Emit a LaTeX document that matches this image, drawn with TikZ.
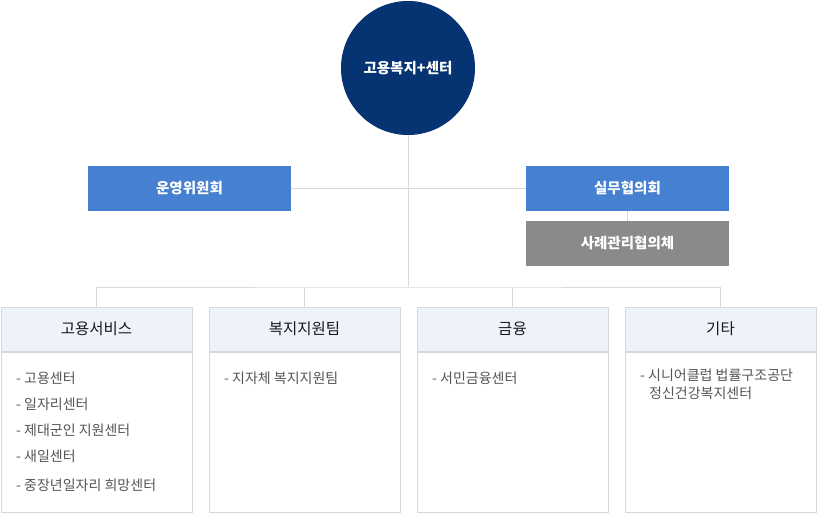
\documentclass[tikz,border=0pt]{standalone}
\usepackage{fontspec}
\setmainfont{Noto Sans CJK KR}
\usetikzlibrary{positioning}
\definecolor{centernavy}{HTML}{063372}
\definecolor{boardblue}{HTML}{4680D0}
\definecolor{casegray}{HTML}{8A8A8A}
\definecolor{linegray}{HTML}{D9D9D9}
\definecolor{headfill}{HTML}{EEF2FB}
\definecolor{boxline}{HTML}{D5D8E0}
\definecolor{itemgray}{HTML}{555555}
\begin{document}
\begin{tikzpicture}[
			x=1pt, y=-1pt,
			conn/.style={draw=linegray, line width=1pt},
			board/.style={fill=boardblue, minimum width=203pt, minimum height=45pt,
				text=white, inner sep=0pt, font=\fontsize{14.5}{16}\selectfont\bfseries},
			deptbox/.style={draw=boxline, fill=headfill, line width=1pt, minimum width=191pt,
				minimum height=44pt, inner sep=0pt, text=black!90, font=\fontsize{15.5}{18}\selectfont},
			bodybox/.style={draw=boxline, fill=white, line width=1pt, minimum width=191pt,
				minimum height=160pt, inner sep=0pt},
			itemlist/.style={anchor=north west, align=left, inner sep=0pt, text=itemgray,
				font=\fontsize{14}{26}\selectfont}
			]
				\useasboundingbox (0,0) rectangle (817,530);

				% center and committees
				\node[circle, fill=centernavy, minimum size=134pt, inner sep=0pt, text=white,
					font=\fontsize{14.5}{16}\selectfont\bfseries] (center) at (408,68) {고용복지+센터};
				\node[board] (operate) at (189.5,188.5) {운영위원회};
				\node[board] (working) at (627.5,188.5) {실무협의회};
				\node[board, fill=casegray] (casemgmt) at (627.5,243.5) {사례관리협의체};

				\coordinate (hub) at (408,287);
				\draw[conn] (center.south) -- (hub);
				\draw[conn] (operate.east) -- (working.west);
				\draw[conn] (working.south) -- (casemgmt.north);

				% departments
				\node[deptbox] (employ) at (96.5,329) {고용서비스};
				\node[deptbox] (welfare) at (304.5,329) {복지지원팀};
				\node[deptbox] (finance) at (512.5,329) {금융};
				\node[deptbox] (others) at (720.5,329) {기타};

				\node[bodybox, below=0pt of employ] (employbody) {};
				\node[bodybox, below=0pt of welfare] (welfarebody) {};
				\node[bodybox, below=0pt of finance] (financebody) {};
				\node[bodybox, below=0pt of others] (othersbody) {};

				\draw[conn] (employ.north) |- (hub) -| (others.north);
				\draw[conn] (welfare.north) -- (welfare.north |- hub);
				\draw[conn] (finance.north) -- (finance.north |- hub);

				% items
				\node[itemlist] (employitems) at (16,372) {- 고용센터\\- 일자리센터\\- 제대군인 지원센터\\- 새일센터\\[3pt]- 중장년일자리 희망센터};
				\node[itemlist] (welfareitems) at (224,372) {- 지자체 복지지원팀};
				\node[itemlist] (financeitems) at (432,372) {- 서민금융센터};
				\node[itemlist, font=\fontsize{14}{18}\selectfont] (othersitems) at (640,369) {- 시니어클럽 법률구조공단\\\hspace*{9pt}정신건강복지센터};

			\end{tikzpicture}
\end{document}
